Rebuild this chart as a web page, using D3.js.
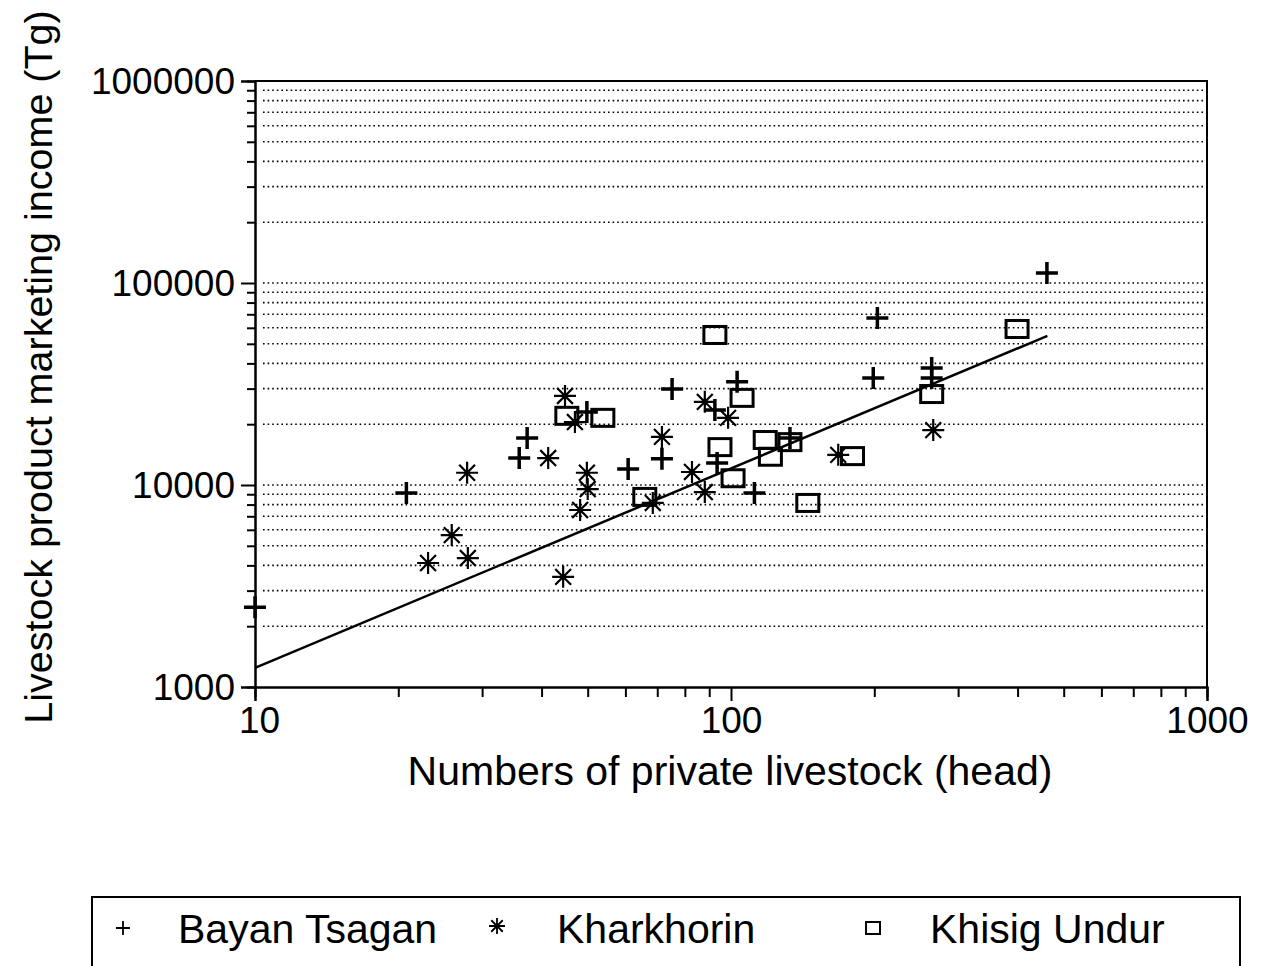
<!DOCTYPE html>
<html>
<head>
<meta charset="utf-8">
<script src="https://cdn.jsdelivr.net/npm/d3@7"></script>
<style>
  body { margin: 0; background: #fff; }
  svg { font-family: "Liberation Sans", Arial, sans-serif; }
</style>
</head>
<body>
<svg id="chart" width="1261" height="966"></svg>
<script>
// data (head, Tg)
var bayanX = [10, 20.8, 37.3, 35.9, 49.8, 60.8, 71.6, 75.2, 92.5, 93.5, 103, 112, 133, 199, 203, 264, 264, 461];
var bayanY = [2480, 9120, 17100, 13600, 23000, 12000, 13500, 29900, 23500, 12850, 32400, 9120, 17100, 33900, 67100, 37900, 33900, 112000];

var kharX = [27.9, 41.3, 49.8, 50, 48.2, 25.9, 23.1, 28, 44.4, 47, 44.8, 71.6, 82.8, 88.1, 98.6, 88.1, 68.5, 168, 266];
var kharY = [11500, 13600, 11500, 9550, 7520, 5650, 4110, 4350, 3510, 20500, 27600, 17300, 11600, 25800, 21500, 9230, 8150, 14100, 18700];

var khisX = [45.2, 53.8, 65.9, 92.5, 105.5, 94.8, 118, 121, 133, 101, 145, 180, 399, 264];
var khisY = [22000, 21500, 8730, 55300, 27000, 15400, 16700, 13800, 16300, 10800, 8150, 13900, 59200, 28200];

// fitted line log10(y) = a + b*log10(x), drawn over this x range
var fitA = 2.108;
var fitB = 0.987;
var fitRange = [10, 462];

var xTicks = [10, 100, 1000];
var yTicks = [1000, 10000, 100000, 1000000];
var legendNames = ['Bayan Tsagan', 'Kharkhorin', 'Khisig Undur'];

var svg = d3.select('#chart');
var pLeft = 255, pRight = 1207, pTop = 81, pBottom = 687;

var x = d3.scaleLog().domain([10, 1000]).range([pLeft, pRight]);
var y = d3.scaleLog().domain([1000, 1000000]).range([pBottom, pTop]);

var minorsOf = function(lo, hi) {
	var out = [];
	for (var p = lo; p < hi; p *= 10) {
		for (var k = 1; k < 10; k++) out.push(p * k);
	}
	out.push(hi);
	return out;
};
var xMinor = minorsOf(10, 1000).filter(d => xTicks.indexOf(d) < 0);
var yAll = minorsOf(1000, 1000000);
var yMinor = yAll.filter(d => yTicks.indexOf(d) < 0);

// dotted grid at every log step
svg.append('g')
	.selectAll('line')
	.data(yAll.filter(d => d > 1000 && d < 1000000))
	.enter().append('line')
	.attr('x1', pLeft + 8).attr('x2', pRight - 2)
	.attr('y1', d => y(d)).attr('y2', d => y(d))
	.attr('stroke', '#000')
	.attr('stroke-width', 1.6)
	.attr('stroke-dasharray', '1.6,3');

// frame top and right
svg.append('path')
	.attr('d', 'M' + pLeft + ',' + pTop + 'H' + pRight + 'V' + pBottom)
	.attr('fill', 'none')
	.attr('stroke', '#000')
	.attr('stroke-width', 2);

// axes
var xMajor = d3.axisBottom(x).tickValues(xTicks).tickSize(14).tickPadding(6).tickFormat(d3.format('d'));
var xMin = d3.axisBottom(x).tickValues(xMinor).tickSize(10).tickFormat('');
var yMajor = d3.axisLeft(y).tickValues(yTicks).tickSize(14).tickPadding(6).tickFormat(d3.format('d'));
var yMin = d3.axisLeft(y).tickValues(yMinor).tickSize(8).tickFormat('');

svg.append('g').attr('transform', 'translate(0,' + pBottom + ')').call(xMin);
var gx = svg.append('g').attr('transform', 'translate(0,' + pBottom + ')').call(xMajor);
svg.append('g').attr('transform', 'translate(' + pLeft + ',0)').call(yMin);
var gy = svg.append('g').attr('transform', 'translate(' + pLeft + ',0)').call(yMajor);

svg.selectAll('.domain').attr('stroke-width', 2).attr('stroke', '#000');
svg.selectAll('.tick line').attr('stroke-width', 2).attr('stroke', '#000');
gx.selectAll('.tick text').attr('font-size', 37).attr('fill', '#000');
gx.selectAll('.tick text').filter(d => d == 10).attr('dx', 4);
gy.selectAll('.tick text').attr('font-size', 37).attr('fill', '#000').attr('dy', '0.35em').attr('x', -20);

// axis titles
svg.append('text')
	.attr('x', 730).attr('y', 785)
	.attr('text-anchor', 'middle')
	.attr('font-size', 41)
	.text('Numbers of private livestock (head)');

svg.append('text')
	.attr('transform', 'translate(52,367) rotate(-90)')
	.attr('text-anchor', 'middle')
	.attr('font-size', 39.5)
	.text('Livestock product marketing income (Tg)');

// regression line
var fitPts = fitRange.map(v => [v, Math.pow(10, fitA + fitB * Math.log10(v))]);
svg.append('path')
	.datum(fitPts)
	.attr('d', d3.line().x(d => x(d[0])).y(d => y(d[1])))
	.attr('fill', 'none')
	.attr('stroke', '#000')
	.attr('stroke-width', 2.5);

// markers
var plus = function(s) {
	return 'M' + (-s) + ',0H' + s + 'M0,' + (-s) + 'V' + s;
};
var star = function(s) {
	var d = 0.72 * s;
	return 'M' + (-s) + ',0H' + s + 'M0,' + (-s) + 'V' + s +
		'M' + (-d) + ',' + (-d) + 'L' + d + ',' + d +
		'M' + (-d) + ',' + d + 'L' + d + ',' + (-d);
};

var pts = svg.append('g');
pts.selectAll('.khis')
	.data(khisX.map((d, i) => [d, khisY[i]]))
	.enter().append('rect')
	.attr('x', d => x(d[0]) - 11).attr('y', d => y(d[1]) - 8.5)
	.attr('width', 22).attr('height', 17)
	.attr('fill', 'none').attr('stroke', '#000').attr('stroke-width', 3);

pts.selectAll('.khar')
	.data(kharX.map((d, i) => [d, kharY[i]]))
	.enter().append('path')
	.attr('transform', d => 'translate(' + x(d[0]) + ',' + y(d[1]) + ')')
	.attr('d', star(11))
	.attr('fill', 'none').attr('stroke', '#000').attr('stroke-width', 2.2);

pts.selectAll('.bayan')
	.data(bayanX.map((d, i) => [d, bayanY[i]]))
	.enter().append('path')
	.attr('transform', d => 'translate(' + x(d[0]) + ',' + y(d[1]) + ')')
	.attr('d', plus(11))
	.attr('fill', 'none').attr('stroke', '#000').attr('stroke-width', 3.5);

// legend
var lg = svg.append('g');
lg.append('path')
	.attr('d', 'M92,1000V897H1240V1000')
	.attr('fill', 'none').attr('stroke', '#000').attr('stroke-width', 2);

var legX = [123, 497, 873];
var txtX = [178, 557, 930];
lg.append('path').attr('transform', 'translate(' + legX[0] + ',928)')
	.attr('d', plus(7)).attr('stroke', '#000').attr('stroke-width', 1.8).attr('fill', 'none');
lg.append('path').attr('transform', 'translate(' + legX[1] + ',926)')
	.attr('d', star(8)).attr('stroke', '#000').attr('stroke-width', 1.8).attr('fill', 'none');
lg.append('rect').attr('x', legX[2] - 7).attr('y', 922).attr('width', 14).attr('height', 12)
	.attr('stroke', '#000').attr('stroke-width', 2).attr('fill', 'none');

lg.selectAll('.lt')
	.data(legendNames)
	.enter().append('text')
	.attr('x', (d, i) => txtX[i]).attr('y', 943)
	.attr('font-size', 41)
	.text(d => d);
</script>
</body>
</html>
